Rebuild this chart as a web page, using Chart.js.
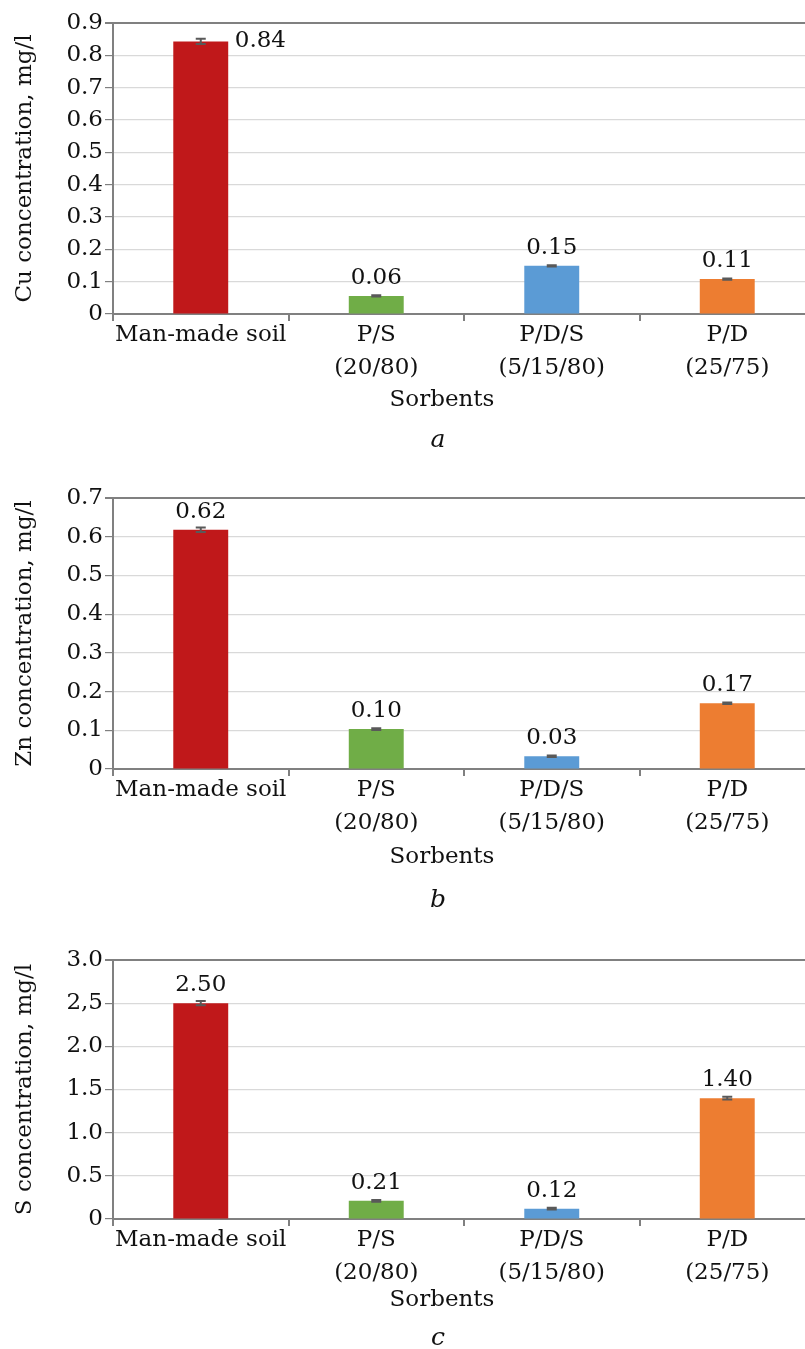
<!DOCTYPE html>
<html>
<head>
<meta charset="utf-8">
<script src="https://cdn.jsdelivr.net/npm/chart.js@4.4.0/dist/chart.umd.min.js"></script>
<style>
  html, body { margin: 0; padding: 0; background: #fff; overflow: hidden; width: 805px; height: 1349px; }
  .panel { position: absolute; left: 0; width: 815px; }
</style>
</head>
<body>
<div class="panel" style="top:0;height:460px"><canvas id="chartA"></canvas></div>
<div class="panel" style="top:460px;height:460px"><canvas id="chartB"></canvas></div>
<div class="panel" style="top:920px;height:429px"><canvas id="chartC"></canvas></div>
<script>
// categories (two-line tick labels)
const sorbents = [["Man-made soil"], ["P/S", "(20/80)"], ["P/D/S", "(5/15/80)"], ["P/D", "(25/75)"]];
const barColors = ["#c0181a", "#70ad47", "#5b9bd5", "#ed7d31"];

// series values and error bars
const cuValues = [0.843, 0.056, 0.149, 0.108];
const cuErrors = [0.008, 0.002, 0.002, 0.002];
const znValues = [0.618, 0.103, 0.033, 0.170];
const znErrors = [0.006, 0.002, 0.002, 0.002];
const sValues = [2.50, 0.21, 0.12, 1.40];
const sErrors = [0.025, 0.010, 0.010, 0.015];

// y tick labels as printed
const cuTicks = ["0", "0.1", "0.2", "0.3", "0.4", "0.5", "0.6", "0.7", "0.8", "0.9"];
const znTicks = ["0", "0.1", "0.2", "0.3", "0.4", "0.5", "0.6", "0.7"];
const sTicks = ["0", "0.5", "1.0", "1.5", "2.0", "2,5", "3.0"];

const FONT = "'DejaVu Serif', serif";
const TEXT = "#111";
const AXIS = "#808080";
const GRID = "#d9d9d9";

const tickValue = (t) => parseFloat(t.replace(",", "."));

const extras = {
  id: "extras",
  afterDatasetsDraw(chart, args, opts) {
    const ctx = chart.ctx;
    const x = chart.scales.x, y = chart.scales.y;
    const ds = chart.data.datasets[0];
    ctx.save();
    // error bars
    ctx.strokeStyle = "#595959";
    ctx.lineWidth = 2;
    ds.data.forEach((v, i) => {
      const e = opts.errors[i];
      const cx = x.getPixelForValue(i);
      const y1 = y.getPixelForValue(v + e), y2 = y.getPixelForValue(v - e);
      ctx.beginPath();
      ctx.moveTo(cx, y1); ctx.lineTo(cx, y2);
      ctx.moveTo(cx - 5, y1); ctx.lineTo(cx + 5, y1);
      ctx.moveTo(cx - 5, y2); ctx.lineTo(cx + 5, y2);
      ctx.stroke();
    });
    // value labels
    ctx.fillStyle = TEXT;
    ctx.font = "23px " + FONT;
    ds.data.forEach((v, i) => {
      const cx = x.getPixelForValue(i);
      const top = y.getPixelForValue(v);
      const txt = v.toFixed(2);
      if (opts.labelSide[i] === "right") {
        ctx.textAlign = "left"; ctx.textBaseline = "middle";
        ctx.fillText(txt, cx + 34, top);
      } else {
        ctx.textAlign = "center"; ctx.textBaseline = "middle";
        ctx.fillText(txt, cx, top - 18);
      }
    });
    // axis title and caption below the category labels
    const bottom = chart.chartArea.bottom;
    ctx.textAlign = "center"; ctx.textBaseline = "middle";
    ctx.font = "23px " + FONT;
    ctx.fillText("Sorbents", 442, bottom + opts.titleOffset);
    ctx.font = "italic 25px " + FONT;
    ctx.fillText(opts.caption, 438, bottom + opts.captionOffset);
    ctx.restore();
  }
};

function makeChart(id, values, errors, ticks, yTitle, caption, layout) {
  const tickVals = ticks.map(tickValue);
  const yMax = tickVals[tickVals.length - 1];
  return new Chart(document.getElementById(id), {
    type: "bar",
    data: {
      labels: sorbents,
      datasets: [{
        data: values,
        backgroundColor: barColors,
        barPercentage: 0.313,
        categoryPercentage: 1.0
      }]
    },
    options: {
      responsive: true,
      maintainAspectRatio: false,
      animation: false,
      layout: { padding: { top: layout.padTop, left: 0, right: 0, bottom: 0 } },
      plugins: {
        legend: { display: false },
        tooltip: { enabled: false },
        extras: {
          errors: errors,
          labelSide: layout.labelSide,
          caption: caption,
          titleOffset: layout.titleOffset,
          captionOffset: layout.captionOffset
        }
      },
      scales: {
        x: {
          afterFit: (s) => { s.height = layout.xHeight; },
          border: { color: AXIS, width: 2 },
          grid: { offset: true, drawOnChartArea: false, color: AXIS, tickLength: 7, lineWidth: 2 },
          ticks: { color: TEXT, font: { family: FONT, size: 23, lineHeight: 1.42 }, padding: -2, maxRotation: 0, autoSkip: false }
        },
        y: {
          min: 0,
          max: yMax,
          afterFit: (s) => { s.width = 113; },
          afterBuildTicks: (s) => { s.ticks = tickVals.map((v) => ({ value: v })); },
          border: { color: AXIS, width: 2 },
          grid: {
            color: (c) => (c.tick && c.tick.value === yMax ? AXIS : GRID),
            lineWidth: (c) => (c.tick && c.tick.value === yMax ? 2 : 1.2),
            tickColor: AXIS,
            tickLength: 8
          },
          ticks: {
            color: TEXT,
            font: { family: FONT, size: 23 },
            padding: 2,
            callback: (v, i) => ticks[i]
          },
          title: {
            display: true,
            text: yTitle,
            color: TEXT,
            font: { family: FONT, size: 23, lineHeight: 1.2 },
            padding: { top: 11, bottom: 0 }
          }
        }
      }
    },
    plugins: [extras]
  });
}

makeChart("chartA", cuValues, cuErrors, cuTicks, "Cu concentration, mg/l", "a",
  { padTop: 23, xHeight: 146, labelSide: ["right", "top", "top", "top"], titleOffset: 86, captionOffset: 126 });
makeChart("chartB", znValues, znErrors, znTicks, "Zn concentration, mg/l", "b",
  { padTop: 38, xHeight: 151, labelSide: ["top", "top", "top", "top"], titleOffset: 88, captionOffset: 131 });
makeChart("chartC", sValues, sErrors, sTicks, "S concentration, mg/l", "c",
  { padTop: 40, xHeight: 130, labelSide: ["top", "top", "top", "top"], titleOffset: 81, captionOffset: 119 });
</script>
</body>
</html>
